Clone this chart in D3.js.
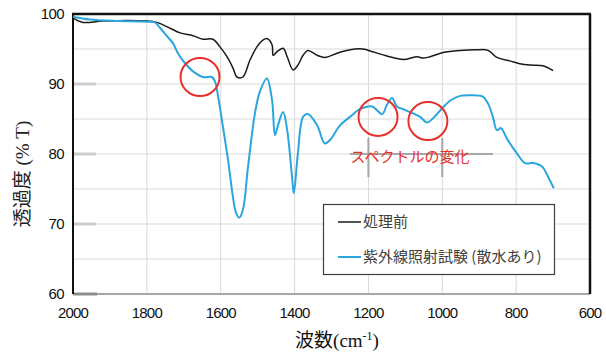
<!DOCTYPE html>
<html>
<head>
<meta charset="utf-8">
<script src="https://cdn.jsdelivr.net/npm/d3@7"></script>
<style>
  body { margin: 0; background: #fff; }
  svg { display: block; }
</style>
</head>
<body>
<div class="chart"></div>
<script>
// 処理前 (before treatment)
const wnBefore = [2000, 1973, 1919, 1800, 1773, 1746, 1710, 1675, 1648, 1621, 1602, 1583, 1567, 1556, 1540,
  1521, 1502, 1485, 1475, 1461, 1458, 1448, 1431, 1420, 1404, 1391, 1377, 1364, 1339, 1318, 1285, 1250,
  1215, 1188, 1150, 1106, 1068, 1052, 1033, 998, 952, 906, 876, 852, 817, 790, 762, 727, 700];
const tBefore = [99.4, 98.8, 99.0, 99.0, 98.8, 98.2, 97.3, 96.9, 96.4, 96.4, 95.3, 93.9, 92.3, 91.0, 91.0,
  93.4, 95.3, 96.3, 96.5, 95.6, 94.1, 94.6, 95.1, 93.9, 92.0, 92.7, 94.1, 94.8, 94.1, 93.8, 94.4, 94.9,
  95.0, 94.6, 94.0, 93.5, 93.9, 93.7, 93.9, 94.5, 94.8, 94.9, 94.8, 93.8, 93.3, 92.9, 92.7, 92.6, 91.9];

// 紫外線照射試験 (散水あり)
const wnUv = [2000, 1954, 1873, 1800, 1778, 1764, 1745, 1729, 1716, 1697, 1675, 1648, 1624, 1615, 1607,
  1594, 1580, 1567, 1559, 1550, 1540, 1526, 1507, 1494, 1475, 1461, 1453, 1445, 1431, 1420, 1407, 1402,
  1391, 1377, 1364, 1339, 1318, 1304, 1277, 1250, 1223, 1190, 1163, 1150, 1136, 1123, 1106, 1079, 1060,
  1041, 1025, 1001, 979, 952, 925, 890, 876, 863, 852, 841, 825, 798, 776, 754, 730, 714, 698];
const tUv = [99.6, 99.2, 99.0, 98.9, 98.8, 98.0, 96.8, 95.8, 94.4, 93.0, 91.8, 91.0, 91.0, 90.3, 88.2,
  83.9, 79.1, 73.9, 71.7, 70.9, 72.0, 78.2, 85.9, 88.9, 90.8, 87.7, 82.7, 84.1, 86.0, 83.4, 76.8, 74.4,
  80.1, 85.3, 85.7, 84.1, 81.5, 82.0, 84.1, 85.3, 86.4, 86.8, 85.7, 87.0, 88.0, 86.8, 86.4, 85.8, 85.3,
  84.5, 85.1, 86.5, 87.6, 88.3, 88.4, 88.2, 87.2, 85.3, 83.4, 83.7, 82.2, 80.1, 78.7, 78.7, 78.2, 76.8, 75.1];

const xTicks = [2000, 1800, 1600, 1400, 1200, 1000, 800, 600];
const yTicks = [60, 70, 80, 90, 100];
const yGrid = [65, 70, 75, 80, 85, 90, 95];

// 赤丸の位置 (wavenumber, %T)
const circleWn = [1656, 1174, 1039];
const circleT = [91.0, 85.3, 84.7];

const seriesNames = ["処理前", "紫外線照射試験 (散水あり)"];
const seriesColors = ["#1a1a1a", "#2aa6df"];

const W = 606, H = 353;
const x = d3.scaleLinear().domain([2000, 600]).range([73, 590]);
const y = d3.scaleLinear().domain([60, 100]).range([294, 14]);

const svg = d3.select(".chart").append("svg")
    .attr("width", W)
    .attr("height", H);

// grid
svg.append("g").selectAll("line")
    .data(yGrid)
    .join("line")
    .attr("x1", x(2000)).attr("x2", x(600))
    .attr("y1", d => y(d)).attr("y2", d => y(d))
    .attr("stroke", "#d9d9d9").attr("stroke-width", 1);

svg.append("g").selectAll("line")
    .data(xTicks.slice(1, -1))
    .join("line")
    .attr("x1", d => x(d)).attr("x2", d => x(d))
    .attr("y1", y(100)).attr("y2", y(60))
    .attr("stroke", "#d9d9d9").attr("stroke-width", 1);

// short gray stubs at the major ticks
svg.append("g").selectAll("line")
    .data([70, 80, 90])
    .join("line")
    .attr("x1", x(2000)).attr("x2", x(1938))
    .attr("y1", d => y(d)).attr("y2", d => y(d))
    .attr("stroke", "#cccccc").attr("stroke-width", 3);

// bracket lines behind the annotation
const br = svg.append("g").attr("stroke", "#a6a6a6").attr("stroke-width", 2);
[1200, 1000].forEach(w => {
    br.append("line")
        .attr("x1", x(w)).attr("x2", x(w))
        .attr("y1", y(82.3)).attr("y2", y(76.7));
});
br.append("line")
    .attr("x1", x(1250)).attr("x2", x(863))
    .attr("y1", y(80)).attr("y2", y(80));

// frame
svg.append("line")
    .attr("x1", x(2000)).attr("x2", x(600))
    .attr("y1", y(60)).attr("y2", y(60))
    .attr("stroke", "#a6a6a6").attr("stroke-width", 2);
svg.append("line")
    .attr("x1", x(2000)).attr("x2", x(1935))
    .attr("y1", y(60)).attr("y2", y(60))
    .attr("stroke", "#8c8c8c").attr("stroke-width", 3);
svg.append("line")
    .attr("x1", x(2000) - 1).attr("x2", x(600) + 1)
    .attr("y1", y(100)).attr("y2", y(100))
    .attr("stroke", "#111").attr("stroke-width", 2.5);
svg.append("line")
    .attr("x1", x(600)).attr("x2", x(600))
    .attr("y1", y(100)).attr("y2", y(60))
    .attr("stroke", "#111").attr("stroke-width", 2.5);
svg.append("line")
    .attr("x1", x(2000)).attr("x2", x(2000))
    .attr("y1", y(100)).attr("y2", y(60))
    .attr("stroke", "#111").attr("stroke-width", 2);

// tick labels
svg.append("g").selectAll("text")
    .data(yTicks)
    .join("text")
    .attr("x", 64)
    .attr("y", d => y(d))
    .attr("dy", "0.36em")
    .attr("text-anchor", "end")
    .style("font-family", "'Liberation Sans', Arial, sans-serif")
    .style("font-size", "15px")
    .style("letter-spacing", "-0.6px")
    .attr("fill", "#111")
    .text(d => d);

svg.append("g").selectAll("text")
    .data(xTicks)
    .join("text")
    .attr("x", d => x(d))
    .attr("y", 318)
    .attr("text-anchor", "middle")
    .style("font-family", "'Liberation Sans', Arial, sans-serif")
    .style("font-size", "15px")
    .style("letter-spacing", "-0.8px")
    .attr("fill", "#111")
    .text(d => d);

// axis titles
const xt = svg.append("text")
    .attr("x", 337)
    .attr("y", 347)
    .attr("text-anchor", "middle")
    .style("font-family", "'Liberation Serif', 'Noto Sans CJK JP', serif")
    .style("font-size", "19px")
    .attr("fill", "#111");
xt.append("tspan").text("波数(cm");
xt.append("tspan").attr("dy", -7).style("font-size", "12px").text("-1");
xt.append("tspan").attr("dy", 7).text(")");

svg.append("text")
    .attr("transform", "translate(29,174) rotate(-90)")
    .attr("text-anchor", "middle")
    .style("font-family", "'Liberation Serif', 'Noto Sans CJK JP', serif")
    .style("font-size", "19px")
    .attr("fill", "#222")
    .text("透過度 (% T)");

// lines
const line = d3.line()
    .x(d => x(d[0]))
    .y(d => y(d[1]))
    .curve(d3.curveCatmullRom.alpha(0.5));

svg.append("path")
    .datum(d3.zip(wnBefore, tBefore))
    .attr("fill", "none")
    .attr("stroke", seriesColors[0])
    .attr("stroke-width", 1.5)
    .attr("stroke-linejoin", "round")
    .attr("d", line);

svg.append("path")
    .datum(d3.zip(wnUv, tUv))
    .attr("fill", "none")
    .attr("stroke", seriesColors[1])
    .attr("stroke-width", 2)
    .attr("stroke-linejoin", "round")
    .attr("d", line);

// red circles + annotation
svg.append("g").selectAll("ellipse")
    .data(d3.zip(circleWn, circleT))
    .join("ellipse")
    .attr("cx", d => x(d[0]))
    .attr("cy", d => y(d[1]))
    .attr("rx", 19.5)
    .attr("ry", 19)
    .attr("fill", "none")
    .attr("stroke", "#e8302b")
    .attr("stroke-width", 2);

svg.append("text")
    .attr("x", 410)
    .attr("y", 162)
    .attr("text-anchor", "middle")
    .style("font-family", "'Noto Sans CJK JP', sans-serif")
    .style("font-size", "15px")
    .attr("fill", "#e8302b")
    .text("スペクトルの変化");

// legend
const lg = svg.append("g");
lg.append("rect")
    .attr("x", 323.5).attr("y", 204.5)
    .attr("width", 231).attr("height", 70)
    .attr("fill", "#fff")
    .attr("stroke", "#404040")
    .attr("stroke-width", 1.2);

const legendY = [222, 257];
seriesNames.forEach((name, i) => {
    lg.append("line")
        .attr("x1", 338).attr("x2", 361)
        .attr("y1", legendY[i]).attr("y2", legendY[i])
        .attr("stroke", seriesColors[i])
        .attr("stroke-width", i === 0 ? 1.5 : 2);
    lg.append("text")
        .attr("x", 363)
        .attr("y", legendY[i])
        .attr("dy", "0.35em")
        .style("font-family", "'Noto Sans CJK JP', sans-serif")
        .style("font-size", "15px")
        .attr("fill", "#404040")
        .text(name);
});
</script>
</body>
</html>
